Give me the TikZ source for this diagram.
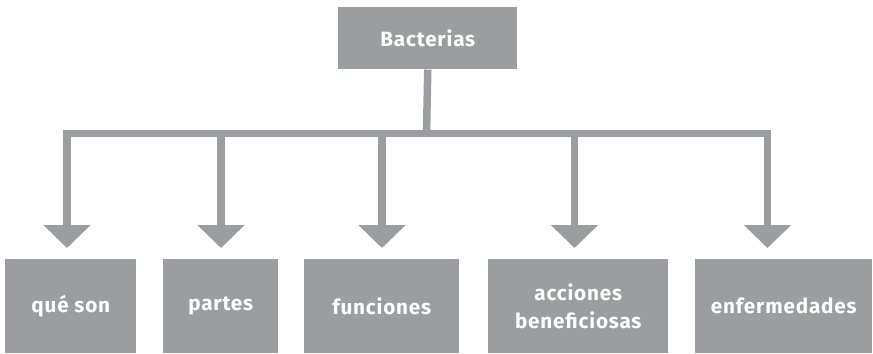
\documentclass[tikz,border=0pt]{standalone}
\usepackage{fontspec}
\setmainfont{Fira Sans}[LetterSpace=4]
\usetikzlibrary{arrows.meta}
\definecolor{boxgray}{RGB}{156,157,161}
\begin{document}
\begin{tikzpicture}[x=0.75pt,y=-0.75pt,
  box/.style={fill=boxgray,draw=none,anchor=north west,inner sep=0pt,
    text=white,font=\fontsize{15.5}{20.5}\selectfont\bfseries,align=center},
  conn/.style={draw=boxgray,line width=5.625pt},
  arr/.style={conn,-{Triangle[width=34.5pt,length=17.25pt]}}
]
\useasboundingbox (0,0) rectangle (873,353);
\node[box,minimum width=134.25pt,minimum height=46.5pt] (top) at (338,7) {Bacterias};
\node[box,minimum width=98.25pt,minimum height=70.5pt] (q) at (5,259) {qué son};
\node[box,minimum width=86.25pt,minimum height=70.5pt] (p) at (163,259) {partes};
\node[box,minimum width=116.25pt,minimum height=70.5pt] (f) at (304,259) {funciones};
\node[box,minimum width=135pt,minimum height=70.5pt] (a) at (488,259) {acciones\\beneficiosas};
\node[box,minimum width=132.75pt,minimum height=70.5pt] (e) at (695,259) {enfermedades};
\coordinate (hub) at (426.5,133.5);
\coordinate (b1) at (67,133.5);
\coordinate (b2) at (221,133.5);
\coordinate (b3) at (382,133.5);
\coordinate (b4) at (574.5,133.5);
\coordinate (b5) at (767.5,133.5);
\coordinate (t1) at (67,248);
\coordinate (t2) at (221,248);
\coordinate (t3) at (382,248);
\coordinate (t4) at (574.5,248);
\coordinate (t5) at (767.5,248);
\draw[conn] (top.south) -- (hub);
\draw[conn,line cap=rect] (b1) -- (b5);
\foreach \i in {1,...,5} {\draw[arr] (b\i) -- (t\i);}
\end{tikzpicture}
\end{document}
